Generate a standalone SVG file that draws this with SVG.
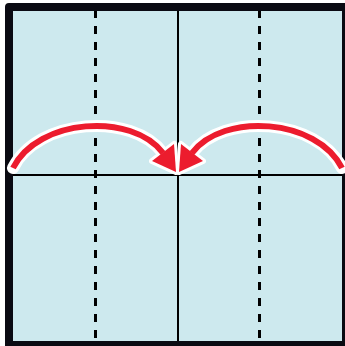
<svg xmlns="http://www.w3.org/2000/svg" width="345" height="346" viewBox="0 0 345 346">
<defs>
<style>
.paper{fill:#cde9ee;stroke:none}
.border{fill:none;stroke:#0a0a12;stroke-width:8;stroke-linejoin:round}
.crease{stroke:#000;stroke-width:2;fill:none}
.fold{stroke:#000;stroke-width:3;stroke-dasharray:8 8;fill:none}
.halo{fill:none;stroke:#fff;stroke-width:12;stroke-linecap:round}
.haloHead{fill:#fff;stroke:#fff;stroke-width:6;stroke-linejoin:round}
.arc{fill:none;stroke:#ec1c2e;stroke-width:6;stroke-linecap:butt}
.head{fill:#ec1c2e;stroke:none}
</style>
<g id="arrowShape">
<path class="halo" d="M13,168 C38,118 132,112 163,153"/>
<polygon class="haloHead" points="176,172 152,161 174,144"/>
<path class="arc" d="M13,168 C38,118 132,112 163,153"/>
<polygon class="head" points="176,172 152,161 174,144"/>
</g>
</defs>
<g id="paper">
<rect class="paper" x="9" y="7" width="337" height="338"/>
</g>
<g id="folds">
<line class="fold" x1="95.5" y1="10" x2="95.5" y2="341"/>
<line class="fold" x1="259.5" y1="10" x2="259.5" y2="341"/>
<line class="crease" x1="178" y1="11" x2="178" y2="341"/>
<line class="crease" x1="13" y1="175" x2="342" y2="175"/>
</g>
<g id="frame">
<rect class="border" x="9" y="7" width="337" height="338"/>
</g>
<g id="connectors">
<use id="arrow-left" href="#arrowShape"/>
<use id="arrow-right" href="#arrowShape" transform="translate(355,0) scale(-1,1)"/>
</g>
</svg>
